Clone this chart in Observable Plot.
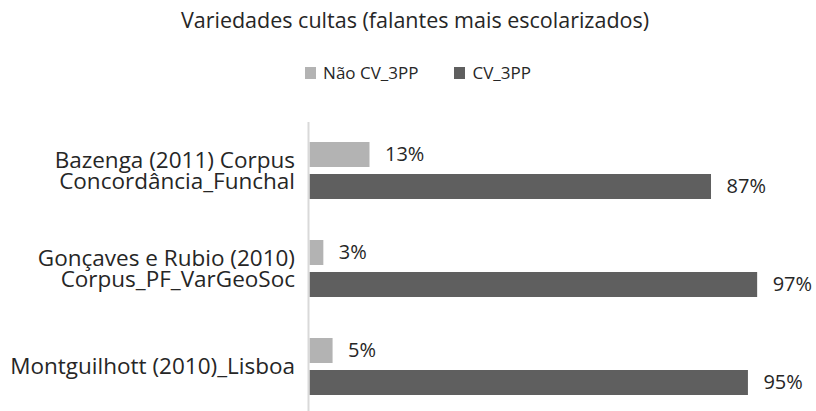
<!DOCTYPE html>
<html><head><meta charset="utf-8">
<script src="https://cdn.jsdelivr.net/npm/d3@7"></script>
<script src="https://cdn.jsdelivr.net/npm/@observablehq/plot@0.6"></script>
<style>
html,body{margin:0;padding:0;background:#fff;overflow:hidden;width:816px;height:411px}
#wrap{position:relative;width:816px;height:411px;font-family:"Open Sans",sans-serif;color:#262626}
#title{position:absolute;left:0;width:830px;top:7px;text-align:center;font-size:21.5px;line-height:26px;white-space:nowrap}
#legend{position:absolute;left:0;width:836px;top:63px;text-align:center;font-size:17px;line-height:20px;white-space:nowrap}
#legend span.item{display:inline-block;margin:0 18px}
#legend span.sw{display:inline-block;width:11px;height:12px;margin-right:7px}
#chart{position:absolute;left:0;top:100px}
</style></head><body>
<div id="wrap">
<div id="title">Variedades cultas (falantes mais escolarizados)</div>
<div id="legend"></div>
<div id="chart"></div>
</div>
<script>
const categories = ["Bazenga (2011) Corpus\nConcordância_Funchal", "Gonçaves e Rubio (2010)\nCorpus_PF_VarGeoSoc", "Montguilhott (2010)_Lisboa"];
const seriesNames = ["Não CV_3PP", "CV_3PP"];
const naoValues = [0.13, 0.03, 0.05];
const cvValues = [0.87, 0.97, 0.95];
const seriesColors = ["#b3b3b3", "#5f5f5f"];

const data = categories.flatMap((c, i) => [
  {category: c, series: seriesNames[0], value: naoValues[i]},
  {category: c, series: seriesNames[1], value: cvValues[i]}
]);

const legend = document.getElementById("legend");
seriesNames.forEach((s, i) => {
  const item = document.createElement("span");
  item.className = "item";
  const sw = document.createElement("span");
  sw.className = "sw";
  sw.style.background = seriesColors[i];
  item.appendChild(sw);
  item.appendChild(document.createTextNode(s));
  legend.appendChild(item);
});

const chart = Plot.plot({
  width: 816,
  height: 317,
  marginTop: 21,
  marginBottom: 0,
  marginLeft: 309.5,
  marginRight: 45,
  style: {fontFamily: "'Open Sans', sans-serif", fontSize: "20px", color: "#262626", background: "#fff"},
  x: {domain: [0, 1], axis: null},
  y: {domain: seriesNames, axis: null, paddingInner: 0.212, paddingOuter: 0.598},
  fy: {domain: categories, padding: 0, axis: null},
  color: {domain: seriesNames, range: seriesColors},
  marks: [
    Plot.barX(data, {fy: "category", y: "series", x: "value", fill: "series"}),
    Plot.text(data, {fy: "category", y: "series", x: "value", text: d => Math.round(d.value * 100) + "%", textAnchor: "start", dx: 15, fill: "#262626", fontSize: 20}),
    Plot.ruleX([0], {stroke: "#d9d9d9", strokeWidth: 2, dx: -1.5}),
    Plot.axisFy({anchor: "left", tickSize: 0, tickPadding: 15, label: null, fontSize: 22.5, lineHeight: 0.96, fill: "#262626"})
  ]
});
document.getElementById("chart").appendChild(chart);
</script>
</body></html>
